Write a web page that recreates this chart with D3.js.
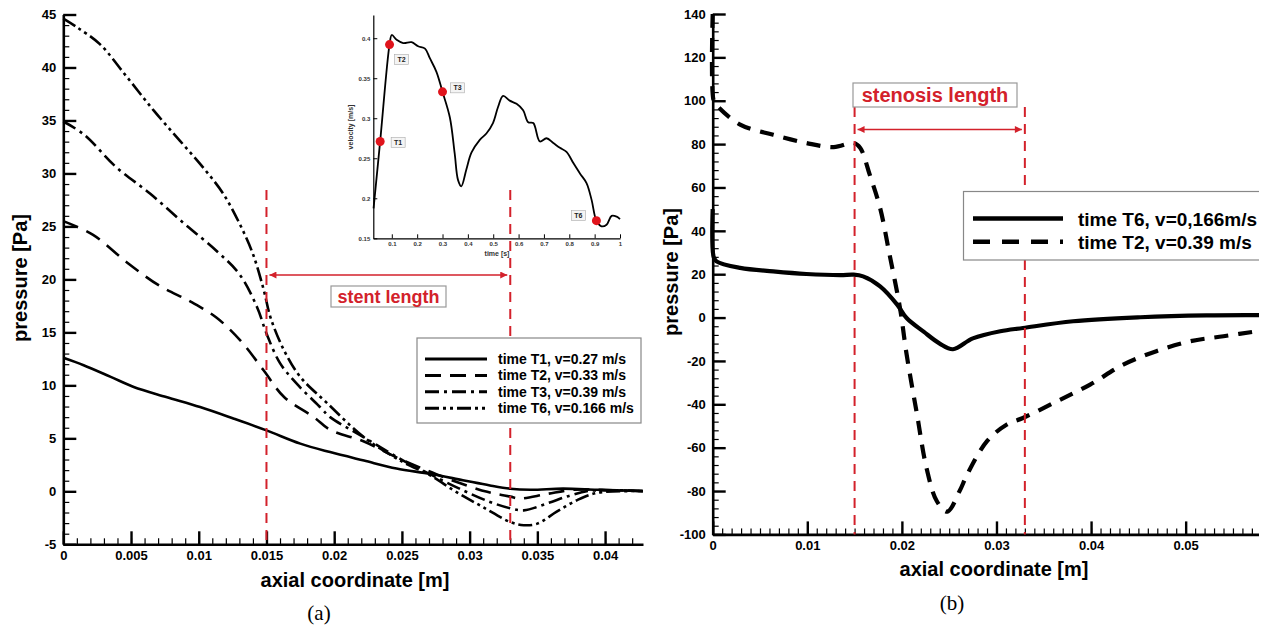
<!DOCTYPE html>
<html>
<head>
<meta charset="utf-8">
<script src="https://d3js.org/d3.v7.min.js"></script>
<style>
  body { margin: 0; background: #fff; }
  text { font-family: "Liberation Sans", Arial, sans-serif; font-weight: bold; }
</style>
</head>
<body>
<div id="chart"></div>
<script>
// ---- panel (a): pressure along axis, [axial coordinate m, pressure Pa]
var aT1 = [[0,12.6],[0.0015,11.9],[0.0035,10.8],[0.0052,9.85],[0.0076,8.9],[0.0101,7.95],[0.0126,6.85],[0.015,5.75],[0.0175,4.5],[0.0197,3.7],[0.0222,2.9],[0.0246,2.15],[0.0271,1.65],[0.0295,1.05],[0.0315,0.55],[0.033,0.25],[0.0345,0.15],[0.0369,0.25],[0.0394,0.15],[0.0428,0.02]];
var aT2 = [[0,25.5],[0.0022,24.2],[0.0047,21.6],[0.0071,19.4],[0.0094,17.9],[0.0113,16.4],[0.0131,14.2],[0.0148,11.4],[0.0163,8.9],[0.0185,7.0],[0.0197,5.8],[0.0222,4.7],[0.0246,3.2],[0.0268,2.0],[0.029,0.9],[0.0313,-0.05],[0.033,-0.5],[0.0337,-0.68],[0.0357,-0.25],[0.0377,0.15],[0.0406,0.1],[0.0428,0.02]];
var aT3 = [[0,34.9],[0.0015,33.7],[0.0039,30.6],[0.0064,28.1],[0.0089,25.3],[0.0113,22.7],[0.013,20.5],[0.0143,17.4],[0.015,14.9],[0.016,12.1],[0.0172,10.2],[0.019,7.9],[0.0197,7.0],[0.0222,5.1],[0.0251,2.9],[0.0271,1.6],[0.0295,0.1],[0.0315,-1.0],[0.033,-1.6],[0.034,-1.8],[0.0357,-1.15],[0.0374,-0.4],[0.0389,0.05],[0.0428,0.02]];
var aT6 = [[0,44.6],[0.001,43.8],[0.0027,42.2],[0.0047,39.1],[0.0067,35.9],[0.0086,33.1],[0.0103,30.6],[0.0118,28.1],[0.013,25.3],[0.014,22.4],[0.0148,19.0],[0.0153,16.4],[0.0163,13.3],[0.0175,10.8],[0.0195,8.3],[0.0222,5.1],[0.0251,2.75],[0.0271,1.5],[0.029,-0.05],[0.031,-1.5],[0.033,-2.9],[0.034,-3.2],[0.035,-3.05],[0.0364,-1.95],[0.0379,-0.85],[0.0394,-0.15],[0.0428,0.02]];
var aLegend = ["time T1, v=0.27 m/s", "time T2, v=0.33 m/s", "time T3, v=0.39 m/s", "time T6, v=0.166 m/s"];
var aDash = ["none", "16,9", "14,5,3,5", "14,4,3,4,3,4"];
var aXTicks = [0, 0.005, 0.01, 0.015, 0.02, 0.025, 0.03, 0.035, 0.04];
var aYTicks = [-5, 0, 5, 10, 15, 20, 25, 30, 35, 40, 45];
var aStent = [0.015, 0.033];

// ---- inset: inlet velocity waveform, [time s, velocity m/s]
var velocity = [[0.028,0.1875],[0.054,0.271],[0.091,0.392],[0.1,0.404],[0.119,0.398],[0.145,0.394],[0.178,0.395],[0.204,0.39],[0.231,0.387],[0.25,0.375],[0.276,0.358],[0.3,0.333],[0.329,0.301],[0.348,0.256],[0.361,0.223],[0.374,0.215],[0.394,0.236],[0.414,0.257],[0.447,0.273],[0.473,0.281],[0.499,0.294],[0.519,0.314],[0.539,0.328],[0.565,0.322],[0.592,0.318],[0.618,0.31],[0.638,0.295],[0.658,0.294],[0.684,0.271],[0.71,0.275],[0.737,0.269],[0.763,0.263],[0.789,0.258],[0.816,0.244],[0.842,0.231],[0.868,0.219],[0.888,0.198],[0.907,0.172],[0.927,0.165],[0.947,0.167],[0.967,0.178],[0.987,0.177],[1.0,0.174]];
var instants = [["T1",0.054,0.271],["T2",0.091,0.392],["T3",0.3,0.333],["T6",0.907,0.172]];
var insetXTicks = [0.1,0.2,0.3,0.4,0.5,0.6,0.7,0.8,0.9,1];
var insetYTicks = [0.15,0.2,0.25,0.3,0.35,0.4];

// ---- panel (b): stenosis case
var bT6 = [[0,50],[0.0001,28],[0.0004,25.9],[0.0029,22.9],[0.0064,21.3],[0.0099,20.1],[0.0135,19.6],[0.0149,19.8],[0.0159,19.0],[0.0177,14.4],[0.0195,6.0],[0.0205,-0.2],[0.0223,-6.5],[0.024,-12.0],[0.0254,-14.6],[0.0275,-9.6],[0.0304,-6.3],[0.0328,-4.8],[0.0381,-1.7],[0.0452,0.14],[0.0522,1.0],[0.058,1.1]];
var bT2 = [[0,140],[0.0001,100],[0.0004,98],[0.0029,89],[0.0064,84.3],[0.0099,80.5],[0.0128,78.6],[0.0149,80.5],[0.0156,78.2],[0.0166,65.9],[0.0177,50.5],[0.0187,29],[0.0198,4.4],[0.0205,-17],[0.0216,-44.7],[0.0226,-69.3],[0.0237,-84.7],[0.0248,-89.5],[0.0261,-80],[0.0269,-72.4],[0.029,-57],[0.0311,-49.3],[0.0328,-46.3],[0.0364,-38.6],[0.0399,-30.9],[0.0434,-21.7],[0.0469,-15.5],[0.0505,-10.9],[0.054,-8.6],[0.058,-6.0]];
var bLegend = ["time T6, v=0,166m/s", "time T2, v=0.39 m/s"];
var bDash = ["none", "14,10"];
var bXTicks = [0, 0.01, 0.02, 0.03, 0.04, 0.05];
var bYTicks = [-100,-80,-60,-40,-20,0,20,40,60,80,100,120,140];
var bStenosis = [0.015, 0.033];

var RED = "#d3212b";
var W = 1268, H = 625;
var fmt = function(d) { return d === 0 ? "0" : String(+d.toFixed(4)); };

var svg = d3.select("#chart").append("svg").attr("width", W).attr("height", H);
svg.append("rect").attr("width", W).attr("height", H).attr("fill", "#fff");

var defs = svg.append("defs");
["arrowEnd", "arrowStart"].forEach(function(id, i) {
  defs.append("marker").attr("id", id)
    .attr("viewBox", "0 0 10 10").attr("refX", i ? 0 : 10).attr("refY", 5)
    .attr("markerWidth", 14).attr("markerHeight", 7).attr("markerUnits", "userSpaceOnUse")
    .attr("orient", "auto")
    .append("path").attr("d", i ? "M10,0 L0,5 L10,10 z" : "M0,0 L10,5 L0,10 z").attr("fill", RED);
});
defs.append("clipPath").attr("id", "clipB").append("rect")
  .attr("x", 640).attr("y", 0).attr("width", 619).attr("height", H);

// tecplot style axes: inward major and minor ticks
function drawAxes(g, x, y, xt, yt, xMinor, yMinor, fs) {
  var xb = y.range()[0], yl = x.range()[0];
  g.append("g").attr("transform", "translate(0," + xb + ")")
    .call(d3.axisBottom(x).tickValues(xMinor).tickSize(-6).tickSizeOuter(0).tickFormat(""))
    .call(function(s) { s.select(".domain").remove(); s.selectAll("line").attr("stroke-width", 1.2); });
  g.append("g").attr("transform", "translate(" + yl + ",0)")
    .call(d3.axisLeft(y).tickValues(yMinor).tickSize(-6).tickSizeOuter(0).tickFormat(""))
    .call(function(s) { s.select(".domain").remove(); s.selectAll("line").attr("stroke-width", 1.2); });
  g.append("g").attr("transform", "translate(0," + xb + ")")
    .call(d3.axisBottom(x).tickValues(xt).tickSize(-13).tickSizeOuter(0).tickPadding(6).tickFormat(fmt))
    .call(function(s) {
      s.select(".domain").attr("stroke-width", 2.6);
      s.selectAll("line").attr("stroke-width", 2.4);
      s.selectAll("text").attr("font-size", fs).attr("fill", "#000")
        .attr("font-family", "Liberation Sans, Arial").attr("font-weight", "bold");
    });
  g.append("g").attr("transform", "translate(" + yl + ",0)")
    .call(d3.axisLeft(y).tickValues(yt).tickSize(-13).tickSizeOuter(0).tickPadding(7).tickFormat(fmt))
    .call(function(s) {
      s.select(".domain").attr("stroke-width", 2.6);
      s.selectAll("line").attr("stroke-width", 2.4);
      s.selectAll("text").attr("font-size", fs).attr("fill", "#000")
        .attr("font-family", "Liberation Sans, Arial").attr("font-weight", "bold");
    });
}

function rangeStep(a, b, s) { return d3.range(Math.round((b - a) / s) + 1).map(function(i) { return +(a + i * s).toFixed(6); }); }

// ================= panel (a) =================
var xa = d3.scaleLinear().domain([0, 0.0428]).range([63.3, 643]);
var ya = d3.scaleLinear().domain([-5, 45]).range([544.3, 14.5]);
var ga = svg.append("g");
drawAxes(ga, xa, ya, aXTicks, aYTicks, rangeStep(0, 0.042, 0.001), rangeStep(-5, 45, 1), 13);

var lineA = d3.line().x(function(d) { return xa(d[0]); }).y(function(d) { return ya(d[1]); })
  .curve(d3.curveCatmullRom.alpha(0.5));
[aT1, aT2, aT3, aT6].forEach(function(s, i) {
  ga.append("path").datum(s).attr("d", lineA).attr("fill", "none")
    .attr("stroke", "#000").attr("stroke-width", 2.6).attr("stroke-dasharray", aDash[i]);
});

aStent.forEach(function(v) {
  ga.append("line").attr("x1", xa(v)).attr("x2", xa(v)).attr("y1", 190).attr("y2", ya(-5))
    .attr("stroke", RED).attr("stroke-width", 2).attr("stroke-dasharray", "10,7");
});
ga.append("line").attr("x1", xa(aStent[0]) + 3).attr("x2", xa(aStent[1]) - 3).attr("y1", 275).attr("y2", 275)
  .attr("stroke", RED).attr("stroke-width", 1.6)
  .attr("marker-start", "url(#arrowStart)").attr("marker-end", "url(#arrowEnd)");
ga.append("rect").attr("x", 331).attr("y", 286).attr("width", 115).attr("height", 21)
  .attr("fill", "#fff").attr("stroke", "#999").attr("stroke-width", 1.2);
ga.append("text").attr("x", 388.5).attr("y", 303).attr("text-anchor", "middle")
  .attr("font-size", 18).attr("fill", RED).text("stent length");

// legend (a)
ga.append("rect").attr("x", 417).attr("y", 338).attr("width", 224).attr("height", 85)
  .attr("fill", "#fff").attr("stroke", "#888").attr("stroke-width", 1.2);
aLegend.forEach(function(t, i) {
  var yy = 359 + i * 16.4;
  ga.append("line").attr("x1", 425).attr("x2", 487).attr("y1", yy).attr("y2", yy)
    .attr("stroke", "#000").attr("stroke-width", 3).attr("stroke-dasharray", aDash[i]);
  ga.append("text").attr("x", 498).attr("y", yy + 5).attr("font-size", 14).text(t);
});

ga.append("text").attr("transform", "translate(27,278) rotate(-90)").attr("text-anchor", "middle")
  .attr("font-size", 20).text("pressure [Pa]");
ga.append("text").attr("x", 355).attr("y", 587).attr("text-anchor", "middle")
  .attr("font-size", 20).text("axial coordinate [m]");
ga.append("text").attr("x", 319).attr("y", 620).attr("text-anchor", "middle")
  .style("font-family", "Liberation Serif, serif").style("font-weight", "normal")
  .attr("font-size", 21).text("(a)");

// ================= inset =================
var xi = d3.scaleLinear().domain([0.027, 1.0]).range([373.3, 620]);
var yi = d3.scaleLinear().domain([0.15, 0.429]).range([238.3, 15]);
var gi = svg.append("g");
gi.append("g").attr("transform", "translate(0,238.3)")
  .call(d3.axisBottom(xi).tickValues(insetXTicks).tickSize(-4).tickSizeOuter(0).tickPadding(3).tickFormat(fmt))
  .call(function(s) { s.select(".domain").attr("stroke-width", 1.2); s.selectAll("text").attr("font-size", 6).attr("fill", "#333"); });
gi.append("g").attr("transform", "translate(373.3,0)")
  .call(d3.axisLeft(yi).tickValues(insetYTicks).tickSize(-4).tickSizeOuter(0).tickPadding(3).tickFormat(fmt))
  .call(function(s) { s.select(".domain").attr("stroke-width", 1.2); s.selectAll("text").attr("font-size", 6).attr("fill", "#333"); });
gi.append("path").datum(velocity).attr("fill", "none").attr("stroke", "#000").attr("stroke-width", 1.8)
  .attr("d", d3.line().x(function(d) { return xi(d[0]); }).y(function(d) { return yi(d[1]); })
    .curve(d3.curveCatmullRom.alpha(0.5)));
var labelOff = { T1: [18, 1], T2: [12, 15], T3: [15, -4], T6: [-18, -5] };
instants.forEach(function(p) {
  var cx = xi(p[1]), cy = yi(p[2]), o = labelOff[p[0]];
  gi.append("circle").attr("cx", cx).attr("cy", cy).attr("r", 4.5).attr("fill", "#e0141c");
  gi.append("rect").attr("x", cx + o[0] - 7).attr("y", cy + o[1] - 5).attr("width", 14).attr("height", 10)
    .attr("fill", "#f4f4f4").attr("stroke", "#aaa").attr("stroke-width", 0.6);
  gi.append("text").attr("x", cx + o[0]).attr("y", cy + o[1] + 2.5).attr("text-anchor", "middle")
    .attr("font-size", 7).attr("fill", "#222").text(p[0]);
});
gi.append("text").attr("transform", "translate(353,127) rotate(-90)").attr("text-anchor", "middle")
  .attr("font-size", 7).attr("fill", "#333").text("velocity [m/s]");
gi.append("text").attr("x", 497).attr("y", 256).attr("text-anchor", "middle")
  .attr("font-size", 7).attr("fill", "#333").text("time [s]");

// ================= panel (b) =================
var xb = d3.scaleLinear().domain([0, 0.0577]).range([712.7, 1258.5]);
var yb = d3.scaleLinear().domain([-100, 140]).range([534.4, 14]);
var gb = svg.append("g").attr("clip-path", "url(#clipB)");
drawAxes(gb, xb, yb, bXTicks, bYTicks, rangeStep(0, 0.057, 0.001), rangeStep(-100, 140, 4), 13);

var lineB = d3.line().x(function(d) { return xb(d[0]); }).y(function(d) { return yb(d[1]); })
  .curve(d3.curveCatmullRom.alpha(0.5));
[bT6, bT2].forEach(function(s, i) {
  gb.append("path").datum(s).attr("d", lineB).attr("fill", "none")
    .attr("stroke", "#000").attr("stroke-width", 4.2).attr("stroke-dasharray", bDash[i]);
});

bStenosis.forEach(function(v) {
  gb.append("line").attr("x1", xb(v)).attr("x2", xb(v)).attr("y1", 107).attr("y2", yb(-100))
    .attr("stroke", RED).attr("stroke-width", 2).attr("stroke-dasharray", "10,7");
});
gb.append("line").attr("x1", xb(bStenosis[0]) + 3).attr("x2", xb(bStenosis[1]) - 3).attr("y1", 129.5).attr("y2", 129.5)
  .attr("stroke", RED).attr("stroke-width", 1.6)
  .attr("marker-start", "url(#arrowStart)").attr("marker-end", "url(#arrowEnd)");
gb.append("rect").attr("x", 853).attr("y", 83).attr("width", 164).attr("height", 24)
  .attr("fill", "#fff").attr("stroke", "#999").attr("stroke-width", 1.2);
gb.append("text").attr("x", 935).attr("y", 102).attr("text-anchor", "middle")
  .attr("font-size", 20).attr("fill", RED).text("stenosis length");

gb.append("rect").attr("x", 963.5).attr("y", 191.5).attr("width", 320).attr("height", 68.5)
  .attr("fill", "#fff").attr("stroke", "#888").attr("stroke-width", 1.2);
bLegend.forEach(function(t, i) {
  var yy = 218.5 + i * 23.3;
  gb.append("line").attr("x1", 973).attr("x2", 1063).attr("y1", yy).attr("y2", yy)
    .attr("stroke", "#000").attr("stroke-width", 4.5).attr("stroke-dasharray", i ? "17,12" : "none");
  gb.append("text").attr("x", 1078).attr("y", yy + 7).attr("font-size", 19).text(t);
});

gb.append("text").attr("transform", "translate(678,272) rotate(-90)").attr("text-anchor", "middle")
  .attr("font-size", 20).text("pressure [Pa]");
gb.append("text").attr("x", 994).attr("y", 576).attr("text-anchor", "middle")
  .attr("font-size", 20).text("axial coordinate [m]");
gb.append("text").attr("x", 952).attr("y", 610).attr("text-anchor", "middle")
  .style("font-family", "Liberation Serif, serif").style("font-weight", "normal")
  .attr("font-size", 21).text("(b)");
</script>
</body>
</html>
